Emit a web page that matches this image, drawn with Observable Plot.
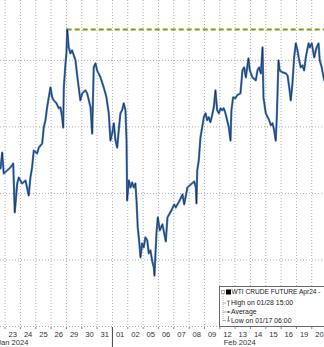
<!DOCTYPE html>
<html><head><meta charset="utf-8">
<script src="https://cdn.jsdelivr.net/npm/d3@7"></script>
<script src="https://cdn.jsdelivr.net/npm/@observablehq/plot@0.6"></script>
<style>
html,body{margin:0;padding:0;background:#fff;overflow:hidden}
#wrap{position:relative;width:324px;height:347px}
#legend{position:absolute;left:219px;top:286px;width:130px;height:39px;border:1px solid #6a6a6a;background:#fff;font-family:"Liberation Sans",Arial,sans-serif;font-size:6.9px;color:#1a1a1a}
#legend .row{position:absolute;left:0;white-space:nowrap;line-height:8px}
</style></head><body><div id="wrap"></div>
<script>
const dayLabels = ["23","24","25","26","29","30","31","01","02","05","06","07","08","09","12","13","14","15","16","19","20"];
const monthLabels = ["Jan 2024","Feb 2024"];
const monthAt = [0, 14.8];
const monthBreak = [6.5];
const gridPrices = [70, 72, 74, 76, 78];
const seriesName = "WTI CRUDE FUTURE Apr24 -";
const highLabel = "High on 01/28 15:00";
const avgLabel = "Average";
const lowLabel = "Low on 01/17 06:00";
const highT = 3.55;
const highPrice = 78.93;

const t = [
 -0.80,-0.69,-0.59,-0.37,-0.15,0.03,0.13,0.29,0.39,0.61,
 0.83,1.04,1.15,1.26,1.37,1.59,1.70,1.92,2.02,2.13,
 2.24,2.35,2.46,2.57,2.67,2.85,3.00,3.11,3.22,3.29,
 3.33,3.44,3.50,3.55,3.65,3.76,3.87,4.09,4.24,4.41,
 4.53,4.74,4.85,4.96,5.07,5.18,5.28,5.39,5.50,5.72,
 5.93,6.11,6.26,6.37,6.48,6.59,6.70,6.81,6.91,7.02,
 7.13,7.24,7.35,7.42,7.46,7.57,7.68,7.79,7.89,8.00,
 8.07,8.15,8.24,8.33,8.44,8.54,8.65,8.77,8.87,8.98,
 9.09,9.20,9.24,9.37,9.46,9.59,9.76,9.98,10.09,10.31,
 10.53,10.63,10.85,11.07,11.18,11.39,11.61,11.83,11.94,11.98,
 12.03,12.13,12.24,12.35,12.46,12.57,12.68,12.78,12.89,13.00,
 13.11,13.22,13.33,13.44,13.55,13.66,13.76,13.87,13.98,14.09,
 14.20,14.26,14.37,14.52,14.63,14.85,14.98,15.09,15.20,15.37,
 15.46,15.63,15.85,15.96,16.07,16.18,16.29,16.35,16.50,16.72,
 16.83,16.94,17.05,17.15,17.22,17.33,17.41,17.59,17.81,17.92,
 18.03,18.13,18.24,18.35,18.46,18.57,18.68,18.78,18.89,19.00,
 19.11,19.29,19.37,19.50,19.66,19.81,19.94,20.02,20.15,20.31,20.40
];
const price = [
 74.75,75.23,74.60,74.69,74.78,74.90,73.43,74.30,74.48,74.30,
 74.39,73.94,74.48,74.78,75.29,75.20,75.38,75.50,75.98,76.20,
 76.59,76.89,77.19,76.89,76.80,76.71,76.56,76.59,76.29,75.98,
 77.19,77.91,78.21,78.93,78.39,78.21,78.30,78.00,77.40,76.80,
 77.01,77.10,77.01,76.80,76.59,75.80,77.79,77.91,77.70,77.49,
 77.19,76.89,76.41,75.59,75.80,76.11,75.59,75.38,75.89,76.41,
 76.50,76.71,76.50,75.59,73.79,74.39,74.18,74.33,74.18,74.30,
 73.79,72.98,72.59,72.08,72.50,72.38,72.68,72.59,72.20,72.29,
 71.98,71.77,71.53,72.80,73.28,72.89,73.07,72.56,73.28,73.46,
 73.67,73.58,73.76,73.97,73.67,74.18,74.27,74.36,74.18,73.70,
 74.69,74.99,75.68,75.98,76.29,76.41,76.20,76.29,76.14,76.35,
 76.59,77.10,76.50,76.41,76.56,76.50,76.56,76.41,76.20,75.98,
 75.59,76.50,76.89,76.86,76.95,77.01,77.70,77.79,77.49,78.06,
 77.70,77.49,77.40,77.70,77.79,77.61,78.39,76.89,76.41,76.20,
 76.05,76.11,75.89,75.59,76.29,78.00,77.70,77.64,77.61,77.55,
 77.19,76.80,77.31,78.09,78.51,78.30,78.00,77.79,77.85,77.70,
 78.09,78.51,78.39,78.51,78.09,78.39,78.51,78.00,77.79,77.40,77.55
];

const data = t.map((d, i) => ({t: d, p: price[i]}));
const dayIdx = dayLabels.map((_, i) => i);
const gridX = dayLabels.map((_, i) => i - 0.5).concat([dayLabels.length - 0.5]);
const font = '"Liberation Sans", Arial, sans-serif';

const chart = Plot.plot({
  width: 324, height: 347,
  marginTop: 0, marginRight: 0, marginBottom: 20, marginLeft: 0,
  style: {fontFamily: font, background: "#fff", overflow: "visible"},
  x: {domain: [-0.80, 20.33], axis: null},
  y: {domain: [69.97, 79.80], axis: null},
  marks: [
    Plot.ruleX(gridX, {stroke: "#9a9a9a", strokeWidth: 0.8, strokeDasharray: "1,2"}),
    Plot.ruleY(gridPrices, {stroke: "#9a9a9a", strokeWidth: 0.8, strokeDasharray: "1,2"}),
    Plot.ruleY([highPrice], {x1: highT, x2: 20.33, stroke: "#7d9c12", strokeWidth: 2, strokeDasharray: "5,3"}),
    Plot.line(data, {x: "t", y: "p", stroke: "#4a80c8", strokeWidth: 2.2, clip: true}),
    Plot.line(data, {x: "t", y: "p", stroke: "#10131f", strokeWidth: 0.7, strokeOpacity: 0.85, clip: true}),
    Plot.axisX(gridX, {anchor: "bottom", tickSize: 2, tickFormat: () => "", stroke: "#888", label: null}),
    Plot.axisX(monthBreak, {anchor: "bottom", tickSize: 20, tickFormat: () => "", stroke: "#444", label: null}),
    Plot.axisX(dayIdx, {anchor: "bottom", tickSize: 0, tickPadding: 4, tickFormat: i => dayLabels[i], fontSize: 7.6, fill: "#333", label: null}),
    Plot.axisX(monthAt, {anchor: "bottom", tickSize: 0, tickPadding: 12.5, tickFormat: (d, i) => monthLabels[i], fontSize: 7.6, fill: "#333", label: null})
  ]
});
const wrap = document.getElementById("wrap");
wrap.appendChild(chart);

const lg = document.createElement("div");
lg.id = "legend";
lg.innerHTML = `
<svg width="20" height="39" style="position:absolute;left:0;top:0">
  <rect x="1.5" y="3.5" width="3" height="3" fill="#fff" stroke="#888" stroke-width="0.7"/>
  <rect x="6" y="2.5" width="5" height="5" fill="#000"/>
  <line x1="3" y1="7" x2="3" y2="34" stroke="#888" stroke-width="0.7" stroke-dasharray="1,1"/>
  <line x1="3" y1="16" x2="6" y2="16" stroke="#888" stroke-width="0.7"/>
  <line x1="3" y1="25" x2="6" y2="25" stroke="#888" stroke-width="0.7"/>
  <line x1="3" y1="33.5" x2="6" y2="33.5" stroke="#888" stroke-width="0.7"/>
  <line x1="8.5" y1="14" x2="8.5" y2="19" stroke="#555" stroke-width="0.7"/>
  <line x1="7" y1="14" x2="10" y2="14" stroke="#555" stroke-width="0.7"/>
  <line x1="6.5" y1="25" x2="10.5" y2="25" stroke="#555" stroke-width="0.7"/>
  <circle cx="8.5" cy="25" r="0.9" fill="#555"/>
  <line x1="8.5" y1="29" x2="8.5" y2="34" stroke="#555" stroke-width="0.7"/>
  <line x1="7" y1="34" x2="10" y2="34" stroke="#555" stroke-width="0.7"/>
</svg>
<div class="row" style="left:11.5px;top:1px;font-size:6.6px">${seriesName}</div>
<div class="row" style="left:11px;top:12px">${highLabel}</div>
<div class="row" style="left:11px;top:21px">${avgLabel}</div>
<div class="row" style="left:11px;top:30px">${lowLabel}</div>`;
wrap.appendChild(lg);
</script>
</body></html>
